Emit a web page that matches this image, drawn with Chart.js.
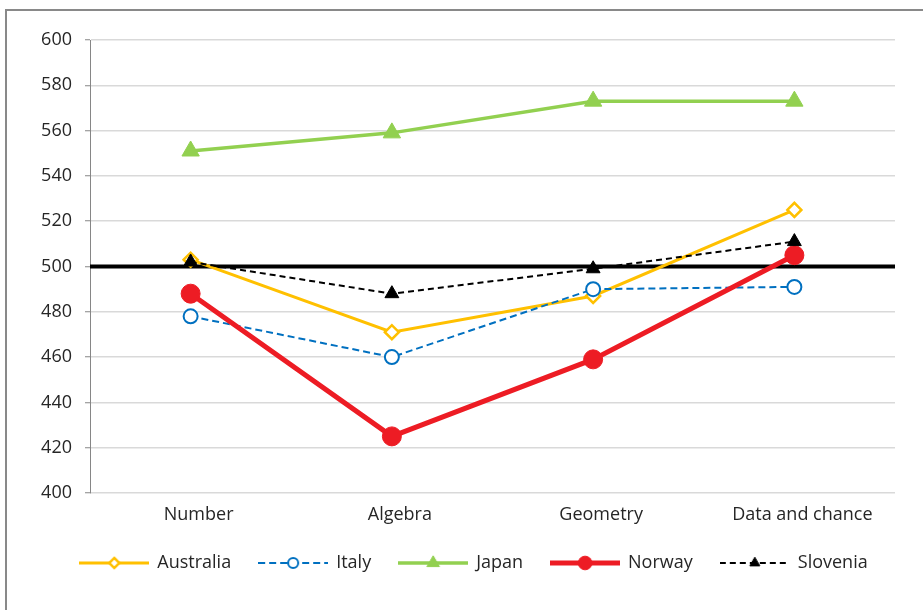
<!DOCTYPE html>
<html lang="en">
<head>
    <meta charset="UTF-8">
    <title>Scores by content domain</title>
    <script src="https://cdn.jsdelivr.net/npm/chart.js"></script>
    <style>
        html, body { margin: 0; padding: 0; background: #fff; overflow: hidden; }
        .frame {
            position: absolute; left: 5px; top: 9px;
            width: 930px; height: 620px;
            border: 2px solid #898989;
        }
        .holder {
            position: absolute; left: 7px; top: 11px;
            width: 916px; height: 599px;
        }
    </style>
</head>
<body>
    <div class="frame"></div>
    <div class="holder"><canvas id="myChart"></canvas></div>
<script>
    const categories = ['Number', 'Algebra', 'Geometry', 'Data and chance'];
    const seriesNames = ['Australia', 'Italy', 'Japan', 'Norway', 'Slovenia'];
    const australia = [503, 471, 487, 525];
    const italy = [478, 460, 490, 491];
    const japan = [551, 559, 573, 573];
    const norway = [488, 425, 459, 505];
    const slovenia = [502, 488, 499, 511];
    const yTicks = [400, 420, 440, 460, 480, 500, 520, 540, 560, 580, 600];
    const referenceLine = 500;

    const fontFamily = '"Open Sans", "Noto Sans", sans-serif';

    // look of each series: line, marker, legend icon
    const styles = [
        { color: '#FFC000', width: 3, dash: [], point: 'rectRot', radius: 7, fill: '#fff', bw: 2.5, order: 4 },
        { color: '#0070C0', width: 2, dash: [7, 4], point: 'circle', radius: 7, fill: '#fff', bw: 2, order: 3 },
        { color: '#92D050', width: 3.5, dash: [], point: 'triangle', radius: 10, fill: '#92D050', bw: 1, order: 2 },
        { color: '#ED1C24', width: 5, dash: [], point: 'circle', radius: 9.5, fill: '#ED1C24', bw: 1, order: 1 },
        { color: '#000000', width: 2, dash: [6, 4], point: 'triangle', radius: 8, fill: '#000', bw: 1, order: 0 }
    ];
    const seriesData = [australia, italy, japan, norway, slovenia];

    function makeIcon(s) {
        const c = document.createElement('canvas');
        c.width = 70; c.height = 22;
        const g = c.getContext('2d');
        const cy = 11;
        g.strokeStyle = s.color;
        g.lineWidth = s.width;
        g.setLineDash(s.dash);
        g.beginPath();
        g.moveTo(0, cy); g.lineTo(70, cy);
        g.stroke();
        g.setLineDash([]);
        const r = s.radius * 0.72;
        g.fillStyle = s.fill;
        g.lineWidth = s.bw;
        g.beginPath();
        if (s.point === 'circle') {
            g.arc(35, cy, r, 0, Math.PI * 2);
        } else if (s.point === 'rectRot') {
            g.moveTo(35, cy - r); g.lineTo(35 + r, cy); g.lineTo(35, cy + r); g.lineTo(35 - r, cy);
            g.closePath();
        } else {
            g.moveTo(35, cy - r); g.lineTo(35 + r * 0.87, cy + r * 0.5); g.lineTo(35 - r * 0.87, cy + r * 0.5);
            g.closePath();
        }
        g.fill();
        g.stroke();
        return c;
    }
    const icons = styles.map(makeIcon);

    const refLinePlugin = {
        id: 'refLine',
        afterLayout(chart) {
            // legend in the reference sits a bit right of the canvas centre
            if (chart.legend) {
                chart.legend.left += 23;
                chart.legend.right += 23;
            }
        },
        beforeDatasetsDraw(chart) {
            const { ctx, chartArea, scales } = chart;
            const y = scales.y.getPixelForValue(referenceLine);
            ctx.save();
            ctx.strokeStyle = '#000';
            ctx.lineWidth = 4;
            ctx.beginPath();
            ctx.moveTo(chartArea.left, y);
            ctx.lineTo(chartArea.right, y);
            ctx.stroke();
            ctx.restore();
        }
    };

    const ctx = document.getElementById('myChart').getContext('2d');
    new Chart(ctx, {
        type: 'line',
        data: {
            labels: categories,
            datasets: seriesNames.map((name, i) => {
                const s = styles[i];
                return {
                    label: name,
                    data: seriesData[i],
                    borderColor: s.color,
                    borderWidth: s.width,
                    borderDash: s.dash,
                    pointStyle: s.point,
                    pointRadius: s.radius,
                    pointHoverRadius: s.radius,
                    pointBackgroundColor: s.fill,
                    pointBorderColor: s.color,
                    pointBorderWidth: s.bw,
                    tension: 0,
                    fill: false,
                    order: s.order
                };
            })
        },
        options: {
            responsive: true,
            maintainAspectRatio: false,
            animation: false,
            layout: { padding: { left: 0, right: 28, top: 29, bottom: 28 } },
            scales: {
                x: {
                    offset: true,
                    grid: { display: false, drawTicks: false },
                    border: { display: false },
                    ticks: {
                        color: '#262626',
                        font: { family: fontFamily, size: 18 },
                        padding: 11,
                        labelOffset: 8,
                        maxRotation: 0
                    },
                    afterFit(scale) { scale.height = 33; }
                },
                y: {
                    min: 400,
                    max: 600,
                    afterBuildTicks(scale) { scale.ticks = yTicks.map(v => ({ value: v })); },
                    grid: { color: '#d9d9d9', lineWidth: 1.5, tickColor: '#868686', tickLength: 5, tickWidth: 1 },
                    border: { color: '#868686', width: 1 },
                    ticks: {
                        color: '#262626',
                        font: { family: fontFamily, size: 18 },
                        padding: 13
                    },
                    afterFit(scale) { scale.width = 83; }
                }
            },
            plugins: {
                tooltip: { enabled: false },
                legend: {
                    position: 'bottom',
                    labels: {
                        usePointStyle: true,
                        pointStyleWidth: 68,
                        padding: 28,
                        color: '#262626',
                        font: { family: fontFamily, size: 18 },
                        sort: (a, b) => a.datasetIndex - b.datasetIndex,
                        generateLabels(chart) {
                            const items = Chart.defaults.plugins.legend.labels.generateLabels(chart);
                            items.forEach(it => { it.pointStyle = icons[it.datasetIndex]; });
                            return items;
                        }
                    }
                }
            }
        },
        plugins: [refLinePlugin]
    });
</script>
</body>
</html>
